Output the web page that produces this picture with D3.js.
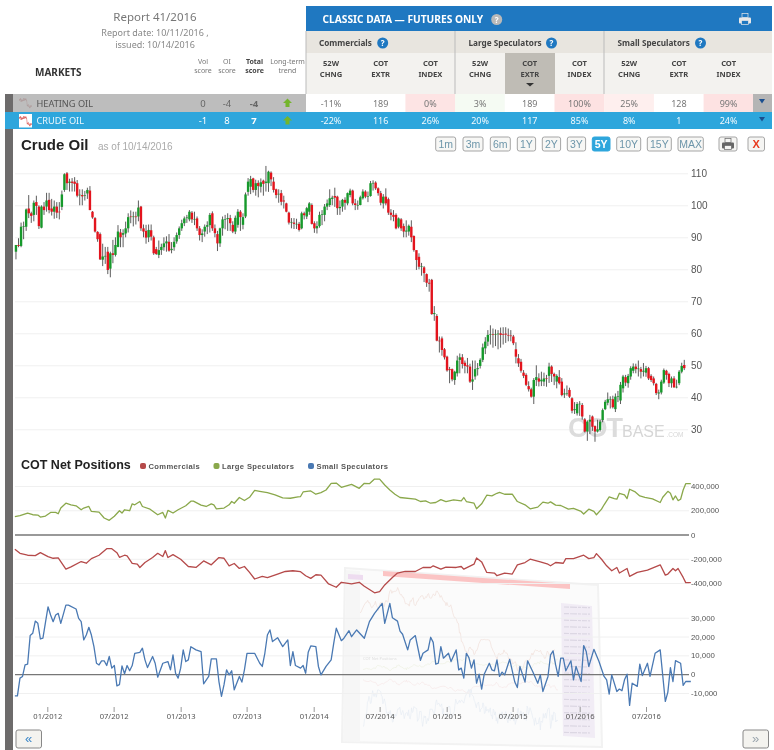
<!DOCTYPE html>
<html>
<head>
<meta charset="utf-8">
<script src="https://cdn.jsdelivr.net/npm/d3@7"></script>
<style>
html, body { margin: 0; padding: 0; background: #fff; }
svg { display: block; filter: blur(0.3px); }
text { font-family: "Noto Sans", sans-serif; }
.arial, .arial text { font-family: "Liberation Sans", Arial, sans-serif; }
</style>
</head>
<body>
<div id="chart"></div>
<script>
// Crude oil weekly candles (first candle 10/07/2011)
const opens = [85.5,87.6,87.3,93.3,93.3,99,97.5,97,101,99.6,93,99.6,99.6,101.7,99,98,99.6,98,99.5,104.8,
  110,107,107.4,107.4,106.9,103.3,103.2,102.9,103.7,104.6,98,96,91.7,91,83,84,85.5,80.2,85,84.5,
  87,91.5,90.8,91.2,92.8,96.5,96.4,96.5,96.5,99.6,92.8,92,90,92.2,90,86.3,84.5,86,86.9,88.1,
  88.6,86,86.9,88.7,90.7,92.8,94.4,96,95.6,97.7,95.6,95.9,92.8,90.7,91.8,93.3,93.8,97.5,92.8,91,
  88.1,92.8,95.6,95.7,96,93.9,91.8,93.9,98,93.9,96.5,104.2,105.8,108.4,104.8,107,
  105.8,107.7,107,106.9,110.2,107.4,105,103.4,103.8,101.5,100.6,97.7,94.6,94.6,94.2,94.2,92.8,97.5,96.5,98,
  100.1,94.4,92.8,93.5,97,97,99.6,100.1,102,102.9,102.7,99.1,99.6,101.7,100.6,103.2,104.6,100.6,100,100.1,
  102.2,104.3,102.7,102.9,107,107.1,105.3,103.8,100.6,102.7,101.9,97.7,97,97,93.3,95.6,93.5,91.8,91.8,93.3,
  90.4,86,83.9,81,80.6,78.5,75.8,76.7,66,65.4,57.7,58.4,55,52.7,48.8,48.8,45.4,47.5,51.7,52.5,
  50.8,50,49.6,44.9,46.5,48.8,49.8,51.7,55.3,57.4,59.6,59.7,59.6,59.7,60,59.7,59.9,59.5,59.3,
  59,55,52.2,51.1,47.7,47,43.5,42.5,40.2,45.4,45.9,45,44.9,45.9,46.7,49.6,47.3,44.9,46.3,44.9,
  40.9,41.2,42.3,39.7,36,35,37.9,37.6,33.1,29.3,32.4,34,31,29.3,29.8,32.9,36.3,38.3,39.3,39.4,
  36.3,40.2,39,42.8,46.3,44.4,46.5,48.3,49.6,48.8,48.8,48,47.7,49.1,46.7,45.9,44.2,41.2,41.5,44.6,
  48.3,47.3,44.4,45.9,43.1,44.4,48,50.1];
const closes = [87.6,87.3,93.3,93.5,98.7,97.5,96.7,100.8,99.8,93.5,99.6,98.5,101.5,98.5,98,99.6,97.7,97.9,103.4,109.7,
  106.9,107.4,107,106.7,103,103.3,102.8,103.1,104.8,98.5,96.2,91.8,89.4,83.1,84,84.2,79.8,85,84.5,87.6,
  91.8,90,91.3,92.8,96.3,96.4,96.5,96.3,99.3,92.8,91.8,89.9,92.3,90.2,85,84.8,86,87,88.1,88.7,
  85.8,86.4,88.6,90.7,92.8,94.4,95.9,96.2,98,95.6,95.7,92.8,90.7,91.2,93.3,93.8,97,92.8,91.3,88.1,
  92.8,95.6,95.6,96,94.4,91.8,96.1,98,96.3,96.3,103.4,107.4,108.2,104.8,106.9,106,
  107.2,106.7,107.4,110.5,108.1,104.8,103.2,103.6,101.1,101.2,98,94.6,94.8,94.2,94.2,92.3,97.5,96.9,99.1,100.6,
  94.2,92.8,93.5,97,97.2,99.6,100.6,102.2,102.4,102.4,99.1,99.5,101.7,100.8,103.8,104.6,100.6,100.1,100.1,102.5,
  104.3,102.7,102.9,106.9,107,105.3,103.8,100.8,102.7,100.6,97.7,97,96.4,92.8,95.9,92.8,91.8,92.1,93.6,90,
  86,82.9,80.8,81,78.8,75.8,75.5,66,66.3,57.7,57.5,54.8,52.5,48.4,48.5,45.6,48,51.5,52.5,50.4,
  49.8,49.6,44.9,45.6,48.8,49.1,51.7,55.6,57.4,59.5,59.7,59.5,59.7,59.9,59.5,59.5,59.6,59.3,59.2,
  56.9,52.7,50.6,48.3,46.7,43.9,42.5,40.2,45.4,46.3,44.9,45.5,45.9,45.8,49.6,47.3,46.5,46.7,44.4,40.7,
  41.2,41.2,40.2,35.8,36.3,37.9,38,34,29.3,32.4,33,30.8,29.3,30,32.4,36,38.6,39.4,39.5,36.9,
  40.2,40.4,43.9,46.5,44.6,46.7,49.1,49.6,48.8,49,48,48.3,49.1,45.9,45.4,44.4,41.3,41.5,44.9,48.5,
  47,44.4,45.9,43.1,43.3,48,49.8,49.1];
const highs = [87.6,89.7,94.6,94.9,99,103.2,98,101.5,103,100,100,101,103.9,103.9,102,101.5,101,101,104.6,110,
  110.4,108.3,108.5,108.8,107.9,105,105,104.5,105.5,106,98.2,96.3,91.9,91.5,88,87,87,85.5,89.2,90,
  93.8,92.6,92.5,94.9,97.5,98.4,98,98,101.5,99.8,94,93.9,94,94,90.5,87,89,88,90,90.3,
  91,88.5,90,91.5,93.4,95.5,96.5,97,98.5,98.2,98,96.5,93.5,92.5,94,95,97.6,98.1,94,92,
  93,96.5,97,97.5,97,95,96.8,98.8,98.5,97.5,104,108.5,109.2,108.6,108,107.8,
  108.4,108,112.3,110.8,110.6,108.8,105.2,105,104.8,103,100.8,98,96,96,95.8,94.8,98,98,99.5,101,
  100.6,95,95,98,98.5,100.4,101.8,105,103,105.5,103,101.5,102,102.5,104,105.2,104.9,102,101.5,103,
  105,104.7,104.3,107.6,107.8,107.5,105.6,104.5,103.5,105.3,102.4,98.8,98.5,97.5,96.2,96,94.3,95.3,94,95.3,
  90.6,85.8,85,82,81,78.7,77,77,68.5,66,59,59,55.4,53,49.5,49,48.3,53,53.7,53.5,
  51.5,52.3,50.5,51.5,51.5,50.7,52.2,56.8,58.8,61,62.5,61.5,61.2,61,61.8,61.9,61.9,61.5,61,
  59.5,57.2,53.5,52,48.5,47.5,45,43,46,50,47.5,48,47.7,47,50.8,50,47.7,47.2,48.5,46,
  42.7,43.7,43,40,38.5,38.5,38.8,38.2,33.5,32.8,34.5,34.3,31.2,33,33,36.5,39.2,41.5,40.3,40.5,
  41.2,42,44.8,47,47,47.3,49.7,50.6,50.5,51.5,49.5,50.7,49.8,49.5,47.2,46.5,44.5,42.4,45.5,49,
  48.6,47.7,46.5,46.6,45.5,48.5,50.8,51.7];
const lows = [83.1,86.9,86.9,89.4,92,96,94.5,95,97,92.6,92.8,97,98,97.5,96.8,95.8,96,95.6,98.5,104.2,
  104.8,104.3,104.3,104.3,102.5,100,100,101.5,102,98.5,95.8,91.5,88.6,82.9,81,81.7,78.5,77.5,81.9,84,
  86.9,86.9,86.9,90,91.5,94.4,93.4,94,95,92,90,88,88.5,89,84.5,84.5,83.5,84.5,85.8,85.5,
  85.5,85,85.8,88,89.5,92,93.5,94.5,95,94.5,93.8,92,89,88.5,90.2,91,91.5,92,90,85.7,
  87,90.5,92.5,92,92,91.3,91,93,92,92.5,96,103,103.5,104,103,102.5,
  104,103,104.3,104.2,106,104,102.2,100.8,100,99,97.8,94,92.8,92.6,92.6,91.8,92.5,95.6,95.7,97,
  94,91.4,91.2,93,93.8,95,98.5,99.5,100,99.5,97,97,98,98.6,100,102.5,100,98.5,98.6,100,
  101.8,102.2,101,102.7,104.6,104.8,103,100,99,100,97,95.3,95,92.5,92.8,92,90,90,90.5,88.5,
  85.5,79.8,80,78,76,74.5,73,65.8,63.9,57.5,54,53,51.8,48,44.4,45,43.9,46.5,47.5,49,
  47.5,47.5,44.5,42.3,45.5,46.8,49,51,53.5,56,56.5,55.5,56,55,55.5,56.5,57,57.5,57.5,
  56.3,50.6,49.5,47.7,46,43.5,41.8,39.9,37.9,43.5,43.4,43.5,43.5,43.3,44.5,44.8,43.8,42.8,44,40.3,
  39.8,40.5,39.8,35,34.8,34.3,34.2,33,29,26.4,28.5,29.5,26.1,29,29.3,32.2,36,37.5,36.5,36.5,
  35.4,38.5,37.9,41.5,43.5,43,45.5,47.5,47.5,46.5,45.9,46.5,46.4,45.4,44.8,43.7,40.7,39.4,40.9,44.2,
  45.5,43.2,43,43,42.8,43.8,47.5,48.5];

// COT net positions: turning points, in weeks after 10/04/2011
const largeWeeks = [0,2,5,7,9,10,12,14,16,17,18,20,22,24,26,27,29,30,33,35,37,39,41,42,43,45,46,47,49,50,53,56,58,59,60,62,64,67,69,70,73,75,77,78,79,82,84,85,86,88,90,92,94,96,99,102,105,108,111,112,113,116,118,120,122,124,126,128,132,135,137,139,141,143,145,147,149,151,157,159,161,163,165,167,169,172,175,176,177,180,181,183,185,187,189,190,192,195,197,200,202,205,207,209,210,212,214,217,219,222,223,225,227,228,230,231,233,235,236,237,239,240,241,243,245,247,250,253,254,256,257,258,259,260,261,262,263,265];
const largeValues = [147,155,177,163,160,144,152,182,182,171,218,258,245,237,204,218,231,190,185,136,117,150,196,177,204,196,253,245,272,231,209,163,182,136,199,177,204,237,275,275,242,231,253,245,212,218,245,272,258,305,280,307,364,356,345,326,302,299,310,313,351,359,332,345,367,422,424,389,413,381,422,419,457,457,408,367,332,305,291,272,277,258,264,288,272,286,277,305,272,258,212,253,324,318,340,348,332,332,272,245,212,226,267,258,269,242,239,209,215,190,169,209,190,163,209,245,310,296,291,340,326,296,373,354,318,307,294,264,307,356,340,286,318,280,291,367,419,419];
const commWeeks = [0,2,5,8,10,13,15,17,20,22,26,28,30,33,36,38,40,41,43,44,46,48,49,51,54,56,58,59,60,62,65,68,71,74,77,80,82,84,86,88,90,92,94,97,99,103,106,109,112,114,116,118,120,123,126,128,132,135,137,141,143,145,148,150,153,157,160,163,164,167,169,173,175,176,180,181,183,185,188,189,192,195,197,200,202,206,209,210,212,215,216,219,223,225,227,228,230,232,234,236,237,240,241,244,248,253,255,256,258,259,260,262,263,265];
const commValues = [-122,-155,-171,-174,-150,-182,-196,-193,-286,-267,-223,-237,-199,-171,-117,-117,-150,-188,-171,-177,-239,-245,-272,-231,-190,-155,-182,-133,-190,-166,-204,-264,-272,-218,-250,-190,-196,-258,-239,-280,-264,-313,-367,-345,-356,-326,-305,-299,-307,-340,-362,-332,-335,-408,-435,-394,-408,-394,-427,-481,-471,-416,-354,-318,-305,-305,-272,-272,-258,-286,-269,-272,-264,-286,-245,-193,-226,-313,-318,-340,-318,-326,-250,-231,-204,-226,-245,-258,-231,-237,-199,-199,-171,-199,-190,-158,-204,-258,-299,-272,-318,-280,-345,-313,-294,-250,-335,-326,-280,-299,-280,-354,-397,-397];
const smallWeeks = [0,1,2,3,4,5,6,7,8,9,10,11,12,13,14,15,16,17,18,20,21,24,25,26,27,28,29,30,31,32,33,34,35,36,37,38,39,40,41,42,43,44,45,46,47,49,50,51,52,54,55,56,58,60,61,62,63,64,65,66,67,68,69,71,73,74,76,77,79,80,81,82,83,84,85,86,88,89,90,91,94,96,97,98,99,100,101,103,105,107,108,109,110,112,113,114,115,116,118,119,120,122,124,125,126,128,129,131,132,134,137,139,141,144,145,147,148,150,151,152,154,155,157,159,160,162,163,164,165,166,167,168,170,171,173,174,175,176,177,178,179,180,181,182,183,184,186,187,188,189,190,191,192,194,196,197,198,200,201,203,205,206,207,209,210,211,212,213,214,215,216,218,219,220,222,223,224,225,227,229,231,232,233,234,236,237,238,239,240,241,242,244,245,246,248,249,251,253,255,256,257,258,259,261,262,263,265];
const smallValues = [-11.5,-11.5,-2.1,-1.2,4.9,5.3,20.5,21.7,28.2,27,18.7,19.1,27.5,35.8,31.4,27.9,31.4,32.3,27,36.7,36.7,34.6,29.6,27.9,18.2,20.8,24.9,20.8,14.6,5.8,4.9,7.1,7.1,4.6,9.4,3.2,4.6,-6.2,-5.6,4.4,0.2,4.6,1.8,4.6,11.1,11.6,13.8,7.6,3.5,9.4,5.8,-1.6,5.8,6.7,2.3,10.2,0.5,-2.1,3.2,12.9,6.7,7.6,14.6,12.9,12,-5.1,-1.2,8.1,8.1,-3.9,-11.8,-5.6,2.3,-0.4,1.8,-8.3,-1.2,-4.2,2.3,11.1,11.1,5.8,4.1,11.1,20.8,23.5,17.3,19.4,14.6,18.2,4.6,12,4.6,3.2,4.6,0.5,11.6,15,14.6,4.1,-0.4,4.1,7.6,16.4,24.4,17.8,19.1,23.1,19.9,23.5,19.1,27.9,32.3,37.6,27,37.6,30,28.2,22.9,21.2,12.9,18.2,20.5,7.4,11.1,12.9,19.6,16.9,5.3,5.8,14.6,8.5,11.1,6.7,12.9,2.3,3.2,-2.1,11.1,8.8,3.2,7.6,-4.8,0,-7.9,0,5.8,2.3,1.8,7.6,-1.2,1.1,-0.4,7.9,-4.2,-7.1,4.1,-4.2,7.1,1.4,-4.8,-0.4,-9.2,-1.2,10.2,12.4,4.9,-1.2,8.5,8.5,1.8,7.1,-3,4.1,-3.9,15.2,12,4.1,13.2,6.7,-1.2,-3,-10.6,-0.4,-9.2,-7.9,-8.8,-3,0,-16.6,-4.8,-6.5,5.3,-0.7,5.8,-1.2,11.1,12.9,-14.5,-9.5,3.5,-3.9,7.2,5.8,-6,-3.9,-3.9];

// Axis ticks
const priceTicks = [30,40,50,60,70,80,90,100,110];
const largeTicks = [400000,200000,0,-200000,-400000];
const smallTicks = [30000,20000,10000,0,-10000];
const dateTicks = ['2012-01-01','2012-07-01','2013-01-01','2013-07-01','2014-01-01','2014-07-01','2015-01-01','2015-07-01','2016-01-01','2016-07-01'];
const ranges = ['1m','3m','6m','1Y','2Y','3Y','5Y','10Y','15Y','MAX'];

// Table contents
const columnHeads = [['52W','CHNG'],['COT','EXTR'],['COT','INDEX']];
const groupNames = ['Commercials','Large Speculators','Small Speculators'];
const heatingRow = ['-11%','189','0%','3%','189','100%','25%','128','99%'];
const crudeRow = ['-22%','116','26%','20%','117','85%','8%','1','24%'];
const heatingColors = ['#fff','#fff','#fde4e4','#f5fbf3','#fff','#fde2e2','#feefee','#fff','#fde2e2'];

const width = 774, height = 750;
const svg = d3.select('#chart').append('svg').attr('width', width).attr('height', height);

function txt(parent, x, y, s, o = {}) {
    return parent.append('text').attr('x', x).attr('y', y).text(s)
        .attr('font-size', o.size || 9)
        .attr('font-weight', o.weight || 'normal')
        .attr('fill', o.fill || '#555')
        .attr('text-anchor', o.anchor || 'middle')
        .attr('letter-spacing', o.spacing || null)
        .attr('class', o.cls || null);
}
function rect(parent, x, y, w, h, fill) {
    return parent.append('rect').attr('x', x).attr('y', y).attr('width', w).attr('height', h).attr('fill', fill);
}
function help(parent, x, y, fill) {
    parent.append('circle').attr('cx', x).attr('cy', y).attr('r', 5.5).attr('fill', fill);
    txt(parent, x, y + 3, '?', { size: 8, weight: 'bold', fill: '#fff' });
}
function printer(parent, x, y, body, paper) {
    rect(parent, x - 3, y - 6, 6, 4, paper).attr('stroke', body).attr('stroke-width', 0.7);
    rect(parent, x - 6, y - 2, 12, 6, body).attr('rx', 1);
    rect(parent, x - 3.5, y + 1, 7, 4, paper).attr('stroke', body).attr('stroke-width', 0.7);
}

// Scales
const parseDay = d3.timeParse('%Y-%m-%d');
const x = d3.scaleTime().domain([parseDay('2012-01-01'), parseDay('2016-07-01')]).range([47.3, 646]);
const yPrice = d3.scaleLinear().domain([30, 110]).range([429.3, 173.3]);
const yLarge = d3.scaleLinear().domain([-400000, 400000]).range([583, 486]);
const ySmall = d3.scaleLinear().domain([-10000, 30000]).range([693, 617.7]);
const firstCandle = parseDay('2011-10-07');
const firstReport = parseDay('2011-10-04');
const candleDate = i => d3.timeDay.offset(firstCandle, 7 * i);
const reportDate = w => d3.timeDay.offset(firstReport, 7 * w);

// --- Header ---
const head = svg.append('g');
txt(head, 155, 21, 'Report 41/2016', { size: 11.5, fill: '#777' });
txt(head, 155, 36, 'Report date: 10/11/2016 ,', { size: 9, fill: '#888' });
txt(head, 155, 48, 'issued: 10/14/2016', { size: 9, fill: '#888' });
txt(head, 35, 76, 'MARKETS', { size: 10, weight: 'bold', fill: '#333', anchor: 'start' });
[[203, 'Vol', 'score', 'normal'], [227, 'OI', 'score', 'normal'], [254.5, 'Total', 'score', 'bold'], [287.5, 'Long-term', 'trend', 'normal']].forEach(d => {
    txt(head, d[0], 64, d[1], { size: 7, weight: d[3], fill: d[3] === 'bold' ? '#444' : '#777' });
    txt(head, d[0], 73, d[2], { size: 7, weight: d[3], fill: d[3] === 'bold' ? '#444' : '#777' });
});

rect(head, 306, 6, 466, 25, '#1f78c1');
txt(head, 322.5, 23, 'CLASSIC DATA \u2014 FUTURES ONLY', { size: 10.2, weight: 'bold', fill: '#fff', anchor: 'start' });
help(head, 496.7, 19.5, '#b9b9b9');
printer(head, 745, 19.5, '#e8e8e8', '#1f78c1');
rect(head, 306, 31, 466, 22, '#e8e5df');
rect(head, 306, 53, 466, 41, '#f3f2ef');
rect(head, 505, 53, 50, 41, '#bfbcb5');

const colLeft = d3.range(9).map(i => 306 + i * 49.7);
const groupLabelX = [319, 468.5, 617.5];
const groupHelpX = [382.7, 551.5, 700.5];
groupNames.forEach((g, i) => {
    txt(head, groupLabelX[i], 46, g, { size: 8.2, weight: 'bold', fill: '#444', anchor: 'start' });
    help(head, groupHelpX[i], 43, '#1f78c1');
});
colLeft.forEach((l, i) => {
    const h = columnHeads[i % 3];
    txt(head, l + 25, 65.5, h[0], { size: 7.6, weight: 'bold', fill: '#444' });
    txt(head, l + 25, 77, h[1], { size: 7.6, weight: 'bold', fill: '#444' });
});
head.append('path').attr('d', 'M526,83h8l-4,3.5z').attr('fill', '#333');
[306, 455, 604].forEach(v => {
    head.append('line').attr('x1', v).attr('x2', v).attr('y1', 31).attr('y2', 94).attr('stroke', '#bbb').attr('stroke-width', 1);
});

// --- Market rows ---
const rows = svg.append('g');
rect(rows, 5, 94, 8, 18, '#6d6b6b');
rect(rows, 13, 94, 293, 18, '#bdbdbd');
rect(rows, 5, 112, 767, 17, '#2ea6dc');
colLeft.forEach((l, i) => rect(rows, l, 94, 49.8, 18, heatingColors[i]));
rect(rows, 753, 94, 19, 18, '#b5b5b5');
txt(rows, 36.5, 107, 'HEATING OIL', { size: 9.2, fill: '#555', anchor: 'start' });
txt(rows, 36.5, 124, 'CRUDE OIL', { size: 9.2, fill: '#eef8fd', anchor: 'start' });
[[203, '0', '-1'], [227, '-4', '8'], [254, '-4', '7']].forEach((d, i) => {
    const w = i === 2 ? 'bold' : 'normal';
    txt(rows, d[0], 107, d[1], { size: 9.5, weight: w, fill: '#666' });
    txt(rows, d[0], 124, d[2], { size: 9.5, weight: w, fill: '#fff' });
});
[103, 120.5].forEach(c => {
    rows.append('path').attr('transform', `translate(287.5,${c})`)
        .attr('d', 'M0,-4.5L4.5,0H2V4H-2V0H-4.5Z').attr('fill', '#74b52c');
});
colLeft.forEach((l, i) => {
    txt(rows, l + 25, 107, heatingRow[i], { size: 9, fill: '#777' });
    txt(rows, l + 25, 124, crudeRow[i], { size: 9, fill: '#f2fafe' });
});
[102, 120].forEach(c => {
    rows.append('path').attr('transform', `translate(762,${c})`).attr('d', 'M-3,-3H3L0,1.5Z').attr('fill', '#1a4f8f');
});

// thumbnails use the same closes, squeezed into the little box
rect(rows, 19, 114, 13, 13.5, '#fff');
const thumbX = d3.scaleLinear().domain([0, closes.length - 1]);
const thumbY = d3.scaleLinear().domain([30, 112]);
[[19.5, 31.5, 126, 116, '#d9534f', 0.8], [19.5, 31.5, 108, 98, '#ad9a9a', 0.7]].forEach(t => {
    thumbX.range([t[0], t[1]]);
    thumbY.range([t[2], t[3]]);
    rows.append('path').attr('fill', 'none').attr('stroke', t[4]).attr('stroke-width', 0.7).attr('opacity', t[5])
        .attr('d', d3.line().x((d, i) => thumbX(i)).y(d => thumbY(d))(closes));
});

// left dark stripe under the rows
rect(svg, 5, 129, 8, 621, '#6d6b6b');

// --- Title row and range buttons ---
const title = svg.append('g').attr('class', 'arial');
txt(title, 21, 150, 'Crude Oil', { size: 15, weight: 'bold', fill: '#222', anchor: 'start', cls: 'arial' });
txt(title, 98, 150, 'as of 10/14/2016', { size: 10, fill: '#aaa', anchor: 'start', cls: 'arial' });
const btnLeft = [435.7, 463, 490.3, 517.3, 542.3, 567.3, 592.3, 616.7, 647.3, 678];
const btnWidth = [20, 20, 20, 18.3, 18.3, 18.3, 17.7, 24, 24, 25.3];
ranges.forEach((r, i) => {
    const on = r === '5Y';
    rect(title, btnLeft[i], 137, btnWidth[i], 14, on ? '#2ea6dc' : '#f7f7f5').attr('rx', 2)
        .attr('stroke', on ? '#2ea6dc' : '#a5a5a5').attr('stroke-width', 1);
    txt(title, btnLeft[i] + btnWidth[i] / 2, 148, r, { size: 10.5, weight: on ? 'bold' : 'normal', fill: on ? '#fff' : '#6d96aa', cls: 'arial' });
});
rect(title, 719, 137, 18, 14, '#f5f5f3').attr('rx', 2).attr('stroke', '#a5a5a5');
printer(title, 728, 144.5, '#666', '#f5f5f3');
rect(title, 748, 137, 16.5, 14, '#f5f5f3').attr('rx', 2).attr('stroke', '#a5a5a5');
txt(title, 756.2, 148, 'X', { size: 11, weight: 'bold', fill: '#e8391d', cls: 'arial' });

// --- Faded screenshot behind the COT panels ---
const ghost = svg.append('g');
ghost.append('path').attr('d', 'M345,568L598,585L602,747L342,742Z').attr('fill', '#fbfbfb').attr('stroke', '#f2f2f2').attr('stroke-width', 2);
ghost.append('path').attr('d', 'M346,570L360,571L360,742L343,741Z').attr('fill', '#f6f6f6');
ghost.append('path').attr('d', 'M383,571L570,584L570,589L383,576Z').attr('fill', '#fbc4c4');
ghost.append('path').attr('d', 'M348,574L363,575L363,580L348,579Z').attr('fill', '#eedcf0');
ghost.append('path').attr('d', 'M561,603L592,606L595,738L563,736Z').attr('fill', '#f1ecf5');
d3.range(20).forEach(i => {
    const c = 607 + i * 6.6;
    ghost.append('line').attr('x1', 564).attr('x2', 590).attr('y1', c).attr('y2', c + 0.6)
        .attr('stroke', '#dcd7e3').attr('stroke-width', 1.2).attr('stroke-dasharray', '5 1 7 1 3 1');
});
const ghostX = d3.scaleLinear().domain([60, 265]).range([360, 558]);
const ghostWeek = d3.scaleLinear().domain([0, 265]).range([363, 558]);
const ghostPrice = d3.scaleLinear().domain([30, 110]).range([670, 588]);
const ghostLarge = d3.scaleLinear().domain([-400000, 400000]).range([690, 660]);
const ghostSmall = d3.scaleLinear().domain([-10000, 30000]).range([725, 695]);
ghost.append('path').attr('fill', 'none').attr('stroke', '#f1e0da').attr('stroke-width', 0.7)
    .attr('d', d3.line().x((d, i) => ghostX(i + 60)).y(d => ghostPrice(d))(closes.slice(60)));
[[largeWeeks, largeValues, ghostLarge, '#eef1e3', 1000], [commWeeks, commValues, ghostLarge, '#f6e8e8', 1000], [smallWeeks, smallValues, ghostSmall, '#e6ecf4', 1000]].forEach(s => {
    ghost.append('path').attr('fill', 'none').attr('stroke', s[3]).attr('stroke-width', 0.7)
        .attr('d', d3.line().x(d => ghostWeek(d)).y((d, i) => s[2](s[1][i] * s[4]))(s[0]));
});
txt(ghost, 363, 660, 'COT Net Positions', { size: 4, fill: '#ddd', anchor: 'start' });

// --- Price panel ---
const fmtTick = v => d3.format(',')(v).replace('\u2212', '-');
function yAxis(parent, scale, ticks, size, xPos, x0, font) {
    const g = parent.append('g').attr('class', 'arial').attr('transform', `translate(${xPos},0)`)
        .call(d3.axisRight(scale).tickValues(ticks).tickFormat(fmtTick).tickSize(-(xPos - x0)).tickPadding(size));
    g.select('.domain').remove();
    g.selectAll('line').attr('stroke', '#f0f0f0').attr('stroke-width', 1);
    g.selectAll('text').attr('font-size', font).attr('fill', '#555').attr('font-family', '"Liberation Sans", Arial, sans-serif');
    return g;
}
const priceAxis = yAxis(svg, yPrice, priceTicks, 3, 688, 15, 10);

// watermark sits behind the candles
txt(svg, 568, 437, 'COT', { size: 27, weight: 'bold', fill: '#dcdcdc', anchor: 'start', cls: 'arial' }).attr('letter-spacing', -1);
txt(svg, 622, 437, 'BASE', { size: 16, fill: '#d6d6d6', anchor: 'start', cls: 'arial' });
txt(svg, 666.5, 437, '.COM', { size: 6.5, fill: '#d6d6d6', anchor: 'start', cls: 'arial' });

const candleG = svg.append('g');
const candles = candleG.selectAll('g').data(opens.map((o, i) => i)).join('g');
candles.append('line')
    .attr('x1', i => x(candleDate(i))).attr('x2', i => x(candleDate(i)))
    .attr('y1', i => yPrice(highs[i])).attr('y2', i => yPrice(lows[i]))
    .attr('stroke', '#333').attr('stroke-width', 0.8);
candles.append('rect')
    .attr('x', i => x(candleDate(i)) - 1.2)
    .attr('width', 2.4)
    .attr('y', i => yPrice(Math.max(opens[i], closes[i])))
    .attr('height', i => Math.max(0.6, Math.abs(yPrice(opens[i]) - yPrice(closes[i]))))
    .attr('fill', i => closes[i] >= opens[i] ? '#16992b' : '#e3141d');

// --- COT panels ---
txt(svg, 21, 468.5, 'COT Net Positions', { size: 12.5, weight: 'bold', fill: '#222', anchor: 'start', cls: 'arial' });
const legend = [[143, 'Commercials', '#b54a4a'], [216.5, 'Large Speculators', '#8aa84b'], [311, 'Small Speculators', '#4a79b3']];
legend.forEach(d => {
    svg.append('rect').attr('x', d[0] - 3).attr('y', 463).attr('width', 6).attr('height', 6).attr('rx', 2).attr('fill', d[2]);
    txt(svg, d[0] + 5.5, 469, d[1], { size: 7.6, weight: 'bold', fill: '#555', anchor: 'start', cls: 'arial', spacing: 0.35 });
});

const largeAxis = yAxis(svg, yLarge, largeTicks, 2, 689, 15, 7.8);
const smallAxis = yAxis(svg, ySmall, smallTicks, 2, 689, 15, 7.8);
[largeAxis, smallAxis].forEach(g => {
    g.selectAll('.tick').filter(d => d === 0).select('line').attr('stroke', '#777').attr('stroke-width', 1.4);
});

const drawLine = (weeks, values, scale, color, mult) => {
    svg.append('path').attr('fill', 'none').attr('stroke', color).attr('stroke-width', 1.3).attr('stroke-linejoin', 'round')
        .attr('d', d3.line().x(d => x(reportDate(d))).y((d, i) => scale(values[i] * mult))(weeks));
};
drawLine(largeWeeks, largeValues, yLarge, '#8aa84b', 1000);
drawLine(commWeeks, commValues, yLarge, '#b54a4a', 1000);
drawLine(smallWeeks, smallValues, ySmall, '#4a79b3', 1000);

const dateAxis = svg.append('g').attr('transform', 'translate(0,707)')
    .call(d3.axisBottom(x).tickValues(dateTicks.map(parseDay)).tickFormat(d3.timeFormat('%m/%Y')).tickSize(5).tickPadding(2));
dateAxis.select('.domain').remove();
dateAxis.selectAll('line').attr('stroke', '#999');
dateAxis.selectAll('text').attr('font-size', 7.6).attr('fill', '#555').attr('font-family', '"Liberation Sans", Arial, sans-serif');

// --- Page arrows ---
[[16, '\u00ab', '#3a86c8'], [743, '\u00bb', '#9aa5ad']].forEach(d => {
    rect(svg, d[0], 730, 25.5, 18, '#f4f3ef').attr('rx', 2).attr('stroke', '#888').attr('stroke-width', 1);
    txt(svg, d[0] + 12.7, 743, d[1], { size: 13, fill: d[2], cls: 'arial' });
});
</script>
</body>
</html>
